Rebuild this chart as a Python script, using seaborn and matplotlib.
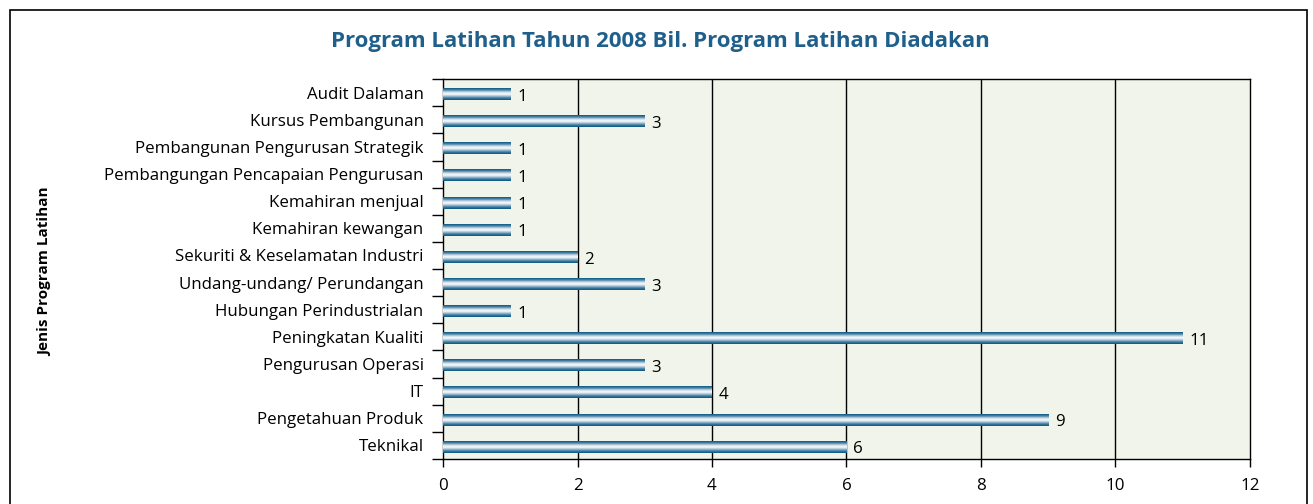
import numpy as np
import pandas as pd
import seaborn as sns
import matplotlib.pyplot as plt
from matplotlib.colors import LinearSegmentedColormap
from matplotlib.patches import Rectangle

programs = ["Audit Dalaman", "Kursus Pembangunan", "Pembangunan Pengurusan Strategik",
            "Pembangungan Pencapaian Pengurusan", "Kemahiran menjual", "Kemahiran kewangan",
            "Sekuriti & Keselamatan Industri", "Undang-undang/ Perundangan",
            "Hubungan Perindustrialan", "Peningkatan Kualiti", "Pengurusan Operasi",
            "IT", "Pengetahuan Produk", "Teknikal"]
counts = [1, 3, 1, 1, 1, 1, 2, 3, 1, 11, 3, 4, 9, 6]

title = "Program Latihan Tahun 2008 Bil. Program Latihan Diadakan"
ylabel = "Jenis Program Latihan"

sns.set_style("white")
plt.rcParams['font.family'] = ['Open Sans', 'DejaVu Sans']

df = pd.DataFrame({"program": programs, "count": counts})

fig = plt.figure(figsize=(13.13, 5.04), dpi=100)
ax = fig.add_axes([0.3374, 0.0893, 0.9520 - 0.3374, 0.843 - 0.0893])
ax.set_facecolor("#f1f4ea")

sns.barplot(data=df, x="count", y="program", orient="h", color="#0b5a80",
            width=0.44, ax=ax, zorder=3)

# cylinder-like gradient fill on each bar
dark = "#0a5880"
cmap = LinearSegmentedColormap.from_list("cyl", [dark, "#4f86a8", "#c9dbe6", "#ffffff",
                                                 "#a9c4d6", "#3d7aa0", dark])
grad = np.linspace(0, 1, 64).reshape(-1, 1)
for p in ax.patches:
    x0, y0 = p.get_x(), p.get_y() + 0.05
    w, h = p.get_width(), p.get_height()
    p.set_alpha(0)
    ax.imshow(grad, cmap=cmap, aspect="auto", extent=[x0, x0 + w, y0 + h, y0],
              zorder=4, interpolation="bilinear")
    ax.text(x0 + w + 0.1, y0 + h / 2 + 0.1, f"{int(w)}", va="center", ha="left",
            fontsize=12.2, color="black", zorder=5)

ax.set_xlim(0, 12)
ax.set_ylim(len(programs) - 0.5, -0.5)
ax.set_xticks(range(0, 13, 2))
ax.set_xticklabels([str(v) for v in range(0, 13, 2)], fontsize=12.2, color="black")
ax.set_yticks(range(len(programs)))
ax.set_yticklabels(programs, fontsize=12.2, color="black")
ax.tick_params(axis="y", length=0, pad=14)
ax.tick_params(axis="x", length=6, width=1, direction="out", color="black", pad=8)
ax.xaxis.set_ticks_position("bottom")
# boundary tick marks on the y axis
ax.set_yticks(np.arange(-0.5, len(programs), 1), minor=True)
ax.tick_params(axis="y", which="minor", length=8, width=1, color="black", direction="out", left=True)

for v in range(2, 12, 2):
    ax.axvline(v, color="black", lw=1, zorder=2)
for s in ax.spines.values():
    s.set_color("black")
    s.set_linewidth(1)

ax.set_xlabel("")
ax.set_ylabel("")
fig.text(0.5027, 0.918, title, ha="center", va="center", fontsize=16,
         fontweight="bold", color="#1f5f8b")
fig.text(0.034, 0.46, ylabel, rotation=90, ha="center", va="center",
         fontsize=11, fontweight="bold", color="black")

fig.add_artist(Rectangle((0.0076, -0.02), 0.9878, 1.0, transform=fig.transFigure,
                         fill=False, edgecolor="black", lw=1.2))

fig.savefig("out.png", dpi=100)
